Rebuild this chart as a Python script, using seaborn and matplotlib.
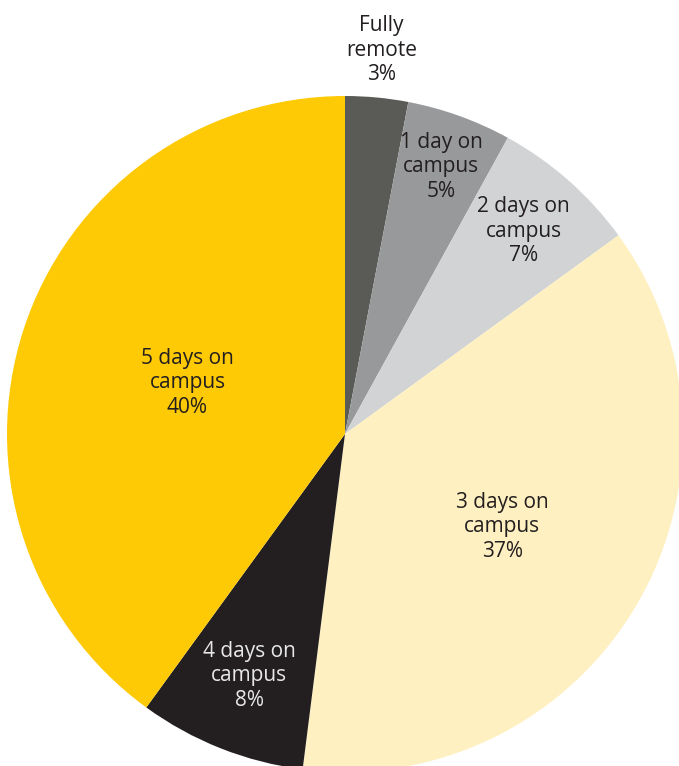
import numpy as np
import matplotlib
matplotlib.use("Agg")
import matplotlib.pyplot as plt
import seaborn as sns

categories = ["Fully\nremote", "1 day on\ncampus", "2 days on\ncampus",
              "3 days on\ncampus", "4 days on\ncampus", "5 days on\ncampus"]
values = [3, 5, 7, 37, 8, 40]
colors = ["#5a5b57", "#98999b", "#d1d3d4", "#fef0c0", "#231f20", "#fec905"]
text_colors = ["#231f20", "#231f20", "#231f20", "#231f20", "#e8e8e8", "#231f20"]
label_radius = [1.14, 0.84, 0.80, 0.54, 0.77, 0.49]

sns.set_theme(style="white")
plt.rcParams['font.family'] = ['Open Sans', 'DejaVu Sans']

W, H = 679, 766
fig = plt.figure(figsize=(W / 100, H / 100), dpi=100)
ax = fig.add_axes([0, 0, 1, 1])
R = 338.0
cx, cy = 345.0, 434.0
wedges, _ = ax.pie(values, colors=colors, startangle=90, counterclock=False,
                   radius=1.0, wedgeprops=dict(linewidth=0))
ax.set_xlim(-cx / R, (W - cx) / R)
ax.set_ylim(-(H - cy) / R, cy / R)
ax.set_aspect('auto')
ax.axis('off')

for w, cat, v, tc, lr in zip(wedges, categories, values, text_colors, label_radius):
    ang = np.deg2rad((w.theta1 + w.theta2) / 2)
    x, y = lr * np.cos(ang), lr * np.sin(ang)
    ax.text(x, y, f"{cat}\n{v}%", ha='center', va='center', fontsize=15,
            color=tc, linespacing=1.22)

fig.savefig("out.png", dpi=100)
